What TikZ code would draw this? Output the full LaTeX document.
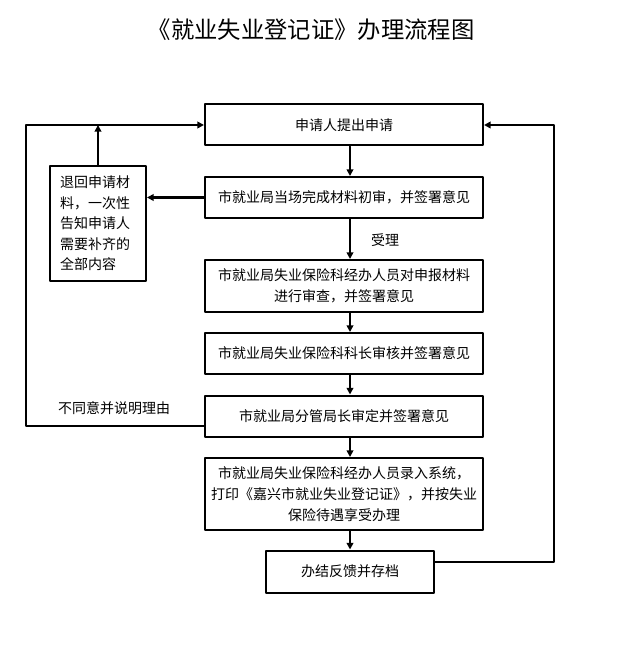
\documentclass[tikz,border=0pt]{standalone}
\usepackage{fontspec}
\newfontfamily\cjk{Noto Sans CJK SC}
\usetikzlibrary{arrows.meta}
\begin{document}
\begin{tikzpicture}[x=0.75pt,y=-0.75pt,line cap=round,line join=round,
  box/.style={draw,line width=1.5pt,minimum width=208.5pt,minimum height=30.75pt,
    inner sep=0pt,align=center,font=\cjk\fontsize{10.5}{16}\selectfont},
  lbl/.style={inner sep=0pt,font=\cjk\fontsize{10.5}{16}\selectfont},
  flow/.style={line width=1.5pt,-{Triangle[length=5pt,width=5pt]}}]
  \useasboundingbox (0,0) rectangle (626,655);
  \node[font=\cjk\fontsize{17.5}{20}\selectfont] (title) at (311,30) {《就业失业登记证》办理流程图};
  \node[box] (apply) at (344,125) {申请人提出申请};
  \node[box] (check) at (344,197.5) {市就业局当场完成材料初审，并签署意见};
  \node[box,minimum width=72pt,minimum height=86.25pt,text width=57pt,align=left,
    font=\cjk\fontsize{10.5}{15.4}\selectfont] (back) at (98,223.5)
    {退回申请材\\料，一次性\\告知申请人\\需要补齐的\\全部内容};
  \node[box,minimum height=39pt] (review) at (344,286) {市就业局失业保险科经办人员对申报材料\\进行审查，并签署意见};
  \node[box] (chief) at (344,353.5) {市就业局失业保险科科长审核并签署意见};
  \node[box] (head) at (344,416) {市就业局分管局长审定并签署意见};
  \node[box,minimum height=54pt] (enter) at (344,494) {市就业局失业保险科经办人员录入系统，\\打印《嘉兴市就业失业登记证》，并按失业\\保险待遇享受办理};
  \node[box,minimum width=126pt,minimum height=31.5pt] (arch) at (350,571.5) {办结反馈并存档};
  \node[lbl] (ok) at (385,240) {受理};
  \node[lbl] (no) at (114,408) {不同意并说明理由};
  \coordinate (lt) at (26,125);
  \coordinate (lb) at (26,426);
  \coordinate (rt) at (554,125);
  \coordinate (rb) at (554,562);
  \draw[flow] (apply.south -| arch) -- (check.north -| arch);
  \draw[flow] (check.south -| arch) -- (review.north -| arch);
  \draw[flow] (review.south -| arch) -- (chief.north -| arch);
  \draw[flow] (chief.south -| arch) -- (head.north -| arch);
  \draw[flow] (head.south -| arch) -- (enter.north -| arch);
  \draw[flow] (enter.south -| arch) -- (arch.north);
  \draw[flow,line width=2.25pt] (check.west) -- (check.west -| back.east);
  \draw[flow] (back.north) -- (back.north |- lt);
  \draw[flow] (lb -| head.west) -- (lb) -- (lt) -- (apply.west);
  \draw[flow] (rb -| arch.east) -- (rb) -- (rt) -- (apply.east);
\end{tikzpicture}
\end{document}
